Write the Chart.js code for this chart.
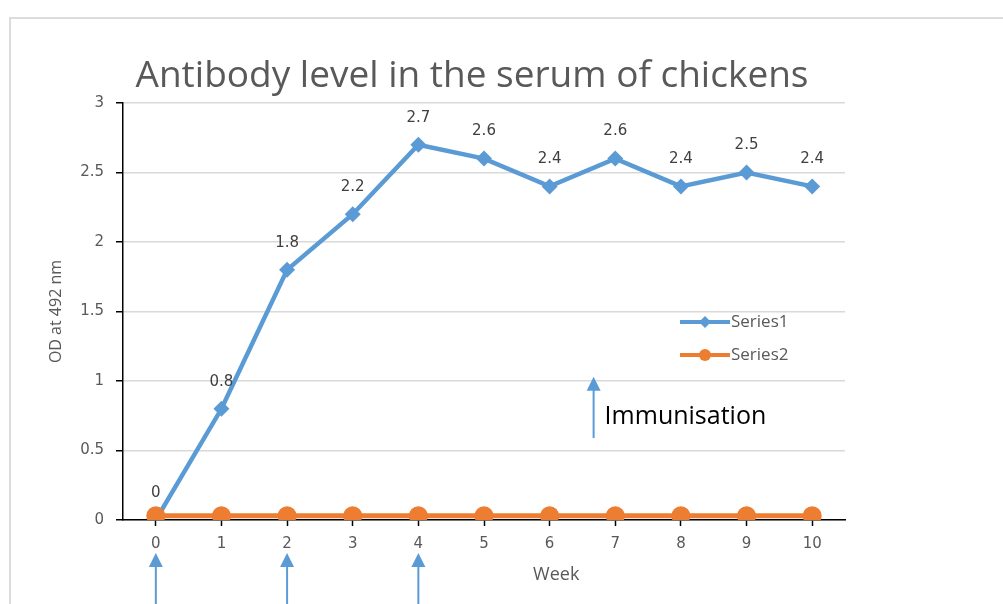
<!DOCTYPE html>
<html>
<head>
<meta charset="utf-8">
<script src="https://cdn.jsdelivr.net/npm/chart.js@4.4.1/dist/chart.umd.min.js"></script>
<style>
  body { margin: 0; background: #fff; }
  #wrap { position: relative; width: 1003px; height: 604px; }
  #frame { position: absolute; left: 9px; top: 17px; right: 0; bottom: 0;
           border-left: 2px solid #dcdcdc; border-top: 2px solid #dcdcdc; }
  canvas { position: absolute; left: 0; top: 0; }
</style>
</head>
<body>
<div id="wrap">
  <div id="frame"></div>
  <canvas id="antibodyChart" width="1003" height="604"></canvas>
</div>
<script>
// Chart data
var weeks = ['0', '1', '2', '3', '4', '5', '6', '7', '8', '9', '10'];
var series1 = [0, 0.8, 1.8, 2.2, 2.7, 2.6, 2.4, 2.6, 2.4, 2.5, 2.4];
var series2 = [0.03, 0.03, 0.03, 0.03, 0.03, 0.03, 0.03, 0.03, 0.03, 0.03, 0.03];
var yTicks = [0, 0.5, 1, 1.5, 2, 2.5, 3];
var immunisationWeeks = [0, 2, 4];

var blue = '#5b9bd5';
var orange = '#ed7d31';
var grey = '#595959';

// Draws title, data labels, legend and immunisation arrows
var annotations = {
    id: 'annotations',
    afterDatasetsDraw: function (chart) {
        var ctx = chart.ctx;
        var area = chart.chartArea;
        var xs = chart.scales.x;
        var ys = chart.scales.y;

        ctx.save();

        // title
        ctx.fillStyle = grey;
        ctx.font = '37px "Open Sans"';
        ctx.textAlign = 'center';
        ctx.textBaseline = 'middle';
        ctx.fillText('Antibody level in the serum of chickens', (area.left + area.right) / 2 - 12, 76);

        // value labels above Series1
        ctx.fillStyle = '#404040';
        ctx.font = '15px "DejaVu Sans"';
        chart.getDatasetMeta(0).data.forEach(function (pt, i) {
            ctx.fillText(String(series1[i]), pt.x, pt.y - 27);
        });

        // x axis title
        ctx.fillStyle = grey;
        ctx.font = '18px "Open Sans"';
        ctx.fillText('Week', xs.getPixelForValue(6.1), 575);

        // legend
        var legendItems = [
            { label: 'Series1', color: blue, style: 'rectRot', y: 322 },
            { label: 'Series2', color: orange, style: 'circle', y: 355 }
        ];
        legendItems.forEach(function (item) {
            ctx.strokeStyle = item.color;
            ctx.lineWidth = 4;
            ctx.beginPath();
            ctx.moveTo(680, item.y);
            ctx.lineTo(730, item.y);
            ctx.stroke();
            ctx.fillStyle = item.color;
            Chart.helpers.drawPoint(ctx, { pointStyle: item.style, radius: 6, borderWidth: 0 }, 705, item.y);
            ctx.fillStyle = grey;
            ctx.font = '17px "Open Sans"';
            ctx.textAlign = 'left';
            ctx.fillText(item.label, 731, item.y);
        });

        // arrows
        function arrow(x, tipY, bottomY) {
            ctx.strokeStyle = blue;
            ctx.fillStyle = blue;
            ctx.lineWidth = 2;
            ctx.beginPath();
            ctx.moveTo(x, tipY + 12);
            ctx.lineTo(x, bottomY);
            ctx.stroke();
            ctx.beginPath();
            ctx.moveTo(x, tipY);
            ctx.lineTo(x - 7, tipY + 14);
            ctx.lineTo(x + 7, tipY + 14);
            ctx.closePath();
            ctx.fill();
        }
        immunisationWeeks.forEach(function (w) {
            arrow(xs.getPixelForValue(w), 553, 604);
        });
        var keyX = xs.getPixelForValue(6.67);
        arrow(keyX, ys.getPixelForValue(1.03), ys.getPixelForValue(0.59));
        ctx.fillStyle = '#000';
        ctx.font = '25px "Open Sans"';
        ctx.textAlign = 'left';
        ctx.fillText('Immunisation', keyX + 11, ys.getPixelForValue(0.74));

        ctx.restore();
    }
};

var ctx = document.getElementById('antibodyChart').getContext('2d');
new Chart(ctx, {
    type: 'line',
    data: {
        labels: weeks,
        datasets: [{
            label: 'Series1',
            data: series1,
            borderColor: blue,
            backgroundColor: blue,
            borderWidth: 4.5,
            pointStyle: 'rectRot',
            pointRadius: 8,
            pointBorderWidth: 0,
            order: 1
        }, {
            label: 'Series2',
            data: series2,
            borderColor: orange,
            backgroundColor: orange,
            borderWidth: 5,
            pointStyle: 'circle',
            pointRadius: 9.5,
            pointBorderWidth: 0,
            order: 0
        }]
    },
    options: {
        responsive: false,
        animation: false,
        events: [],
        layout: { padding: { top: 103, left: 40, right: 158, bottom: 0 } },
        plugins: {
            legend: { display: false },
            tooltip: { enabled: false }
        },
        scales: {
            x: {
                offset: true,
                afterFit: function (s) { s.height = 84; },
                grid: { drawOnChartArea: false, tickLength: 6, tickColor: '#000', tickWidth: 1.5 },
                border: { color: '#000', width: 1.5 },
                ticks: { color: grey, font: { family: 'DejaVu Sans', size: 15 }, padding: 9, maxRotation: 0 }
            },
            y: {
                min: 0,
                max: 3,
                afterFit: function (s) { s.width = 83; },
                afterBuildTicks: function (s) { s.ticks = yTicks.map(function (v) { return { value: v }; }); },
                grid: { color: '#d9d9d9', lineWidth: 1.5, tickLength: 7, tickColor: '#000', tickWidth: 1.5 },
                border: { color: '#000', width: 1.5 },
                ticks: {
                    color: grey,
                    font: { family: 'DejaVu Sans', size: 15 },
                    padding: 12,
                    callback: function (v) { return String(v); }
                },
                title: {
                    display: true,
                    text: 'OD at 492 nm',
                    color: grey,
                    font: { family: 'Open Sans', size: 16 },
                    padding: { top: 7 }
                }
            }
        }
    },
    plugins: [annotations]
});
</script>
</body>
</html>
